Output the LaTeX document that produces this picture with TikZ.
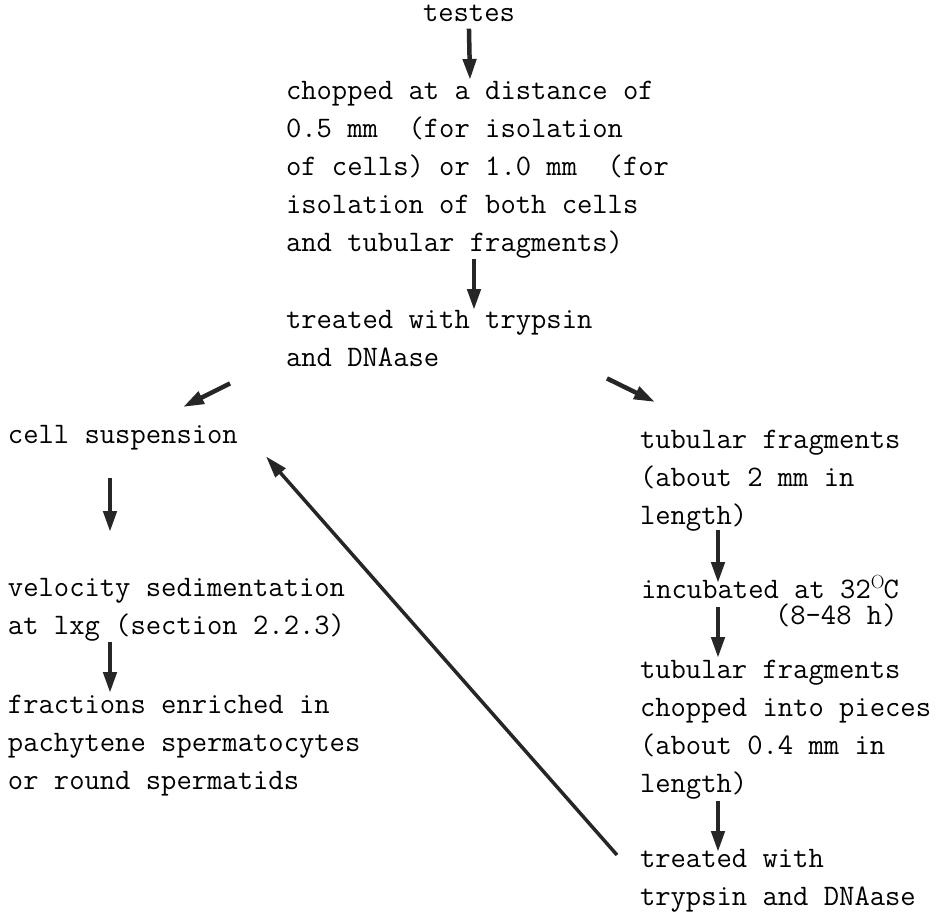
\documentclass[tikz,border=0pt]{standalone}
\usepackage{fontspec}
\usetikzlibrary{arrows.meta,calc}
\newcommand\tstr{\rule{0pt}{26.4pt}}
\newcommand\bstr{\rule[-12pt]{0pt}{12pt}}
\tikzset{
  txt/.style={anchor=north west, inner sep=0pt, outer sep=0pt, align=left,
    font=\ttfamily\addfontfeatures{FakeBold=1}\fontsize{29.75}{38}\selectfont, text=black},
  arr/.style={draw=black!85, line width=4.5pt, -{Triangle[length=21pt,width=13pt]}},
  longarr/.style={draw=black!85, line width=3.5pt, -{Triangle[length=22pt,width=13pt]}}
}
\begin{document}
\begin{tikzpicture}[x=1pt,y=-1pt]
\useasboundingbox (0,0) rectangle (937,914);
\node[txt] (testes) at (423,5.5) {testes};
\node[txt] (chop) at (286,73) {\tstr chopped at a distance of\\
0.5 mm~ (for isolation\\
of cells) or 1.0 mm~ (for\\
isolation of both cells\\
and tubular fragments)\bstr};
\node[txt] (treat) at (286,302) {\tstr treated with trypsin\\
and DNAase\bstr};
\node[txt] (cell) at (8,417) {\tstr cell suspension\bstr};
\node[txt] (velo) at (8,570) {\tstr velocity sedimentation\\
at lxg (section 2.2.3)\bstr};
\node[txt] (frac) at (8,687) {\tstr fractions enriched in\\
pachytene spermatocytes\\
or round spermatids\bstr};
\node[txt] (tub1) at (640,422) {\tstr tubular fragments\\
(about 2 mm in\\
length)\bstr};
\node[txt] (incub) at (641,572) {\tstr incubated at 32\raisebox{10pt}{\rmfamily\fontsize{19}{19}\selectfont O}\kern-1pt C\\[-12pt]
\hspace*{134pt}(8-48 h)\bstr};
\node[txt] (tub2) at (640,652) {\tstr tubular fragments\\
chopped into pieces\\
(about 0.4 mm in\\
length)\bstr};
\node[txt] (treat2) at (640,841) {\tstr treated with\\
trypsin and DNAase};
% connectors
\draw[arr] ($(testes.south)+(0,6.5)$) -- ($(chop.north west)+(184,7)$);
\draw[arr] ($(chop.south west)+(188,-4)$) -- ($(treat.north west)+(188,8)$);
\draw[arr] ($(treat.south west)+(-56,5)$) -- ($(cell.north west)+(175,-10)$);
\draw[arr] ($(treat.south west)+(321,0)$) -- ($(tub1.north west)+(15,-20)$);
\draw[arr] ($(cell.south west)+(102,23)$) -- ($(velo.north west)+(102,-38)$);
\draw[arr] ($(velo.south west)+(102,-4)$) -- ($(frac.north west)+(102,6)$);
\draw[arr] ($(tub1.south west)+(78,-6)$) -- ($(incub.north west)+(77,11)$);
\draw[arr] ($(incub.south west)+(77,-29)$) -- ($(tub2.north west)+(78,6)$);
\draw[arr] ($(tub2.south west)+(78,-3)$) -- ($(treat2.north west)+(78,11)$);
\draw[longarr] ($(treat2.north west)+(-23,14)$) -- ($(cell.south west)+(258,1)$);
\end{tikzpicture}
\end{document}
